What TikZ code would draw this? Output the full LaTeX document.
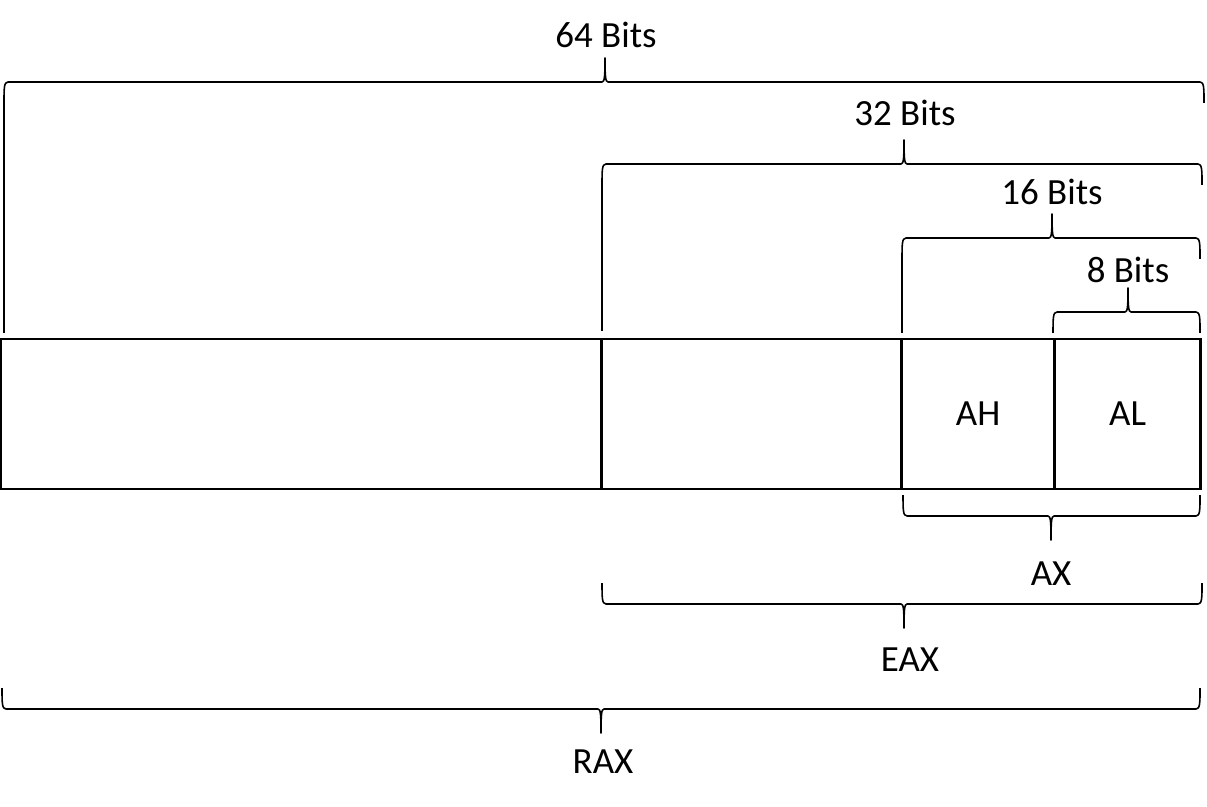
\documentclass[tikz,border=0pt]{standalone}
\usepackage{fontspec}
\setmainfont{Carlito}
\usetikzlibrary{positioning}

\tikzset{
  brace/.style={line width=0.45pt, line join=round},
  cell/.style={draw, line width=0.7pt, minimum height=1.5cm, inner sep=0pt, outer sep=0pt,
    font=\fontsize{10.5}{12}\selectfont},
  lbl/.style={font=\fontsize{10.5}{12}\selectfont, inner sep=0pt},
}

% #1 left x, #2 right x, #3 tip x, #4 y of the bar, #5 = 1 (legs down) or -1 (legs up)
\newcommand{\bitbrace}[5]{%
  \begin{scope}[shift={(0,#4)}, yscale=#5]
    \draw[brace] (#1,21) .. controls (#1,6) and (#1,0) .. ({#1+4},0)
      -- ({#3-3},0) .. controls ({#3-0.5},0) and (#3,-5) .. (#3,-24)
      .. controls (#3,-5) and ({#3+0.5},0) .. ({#3+3},0)
      -- ({#2-4},0) .. controls (#2,0) and (#2,6) .. (#2,21);
  \end{scope}}

\begin{document}
\begin{tikzpicture}[x=0.01cm, y=-0.01cm]
  \useasboundingbox (0,0) rectangle (1207,807);

  % --- register cells ---
  \node[cell, minimum width=6cm, anchor=north west] (rhi) at (1,339) {};
  \node[cell, minimum width=3cm, right=0pt of rhi] (ehi) {};
  \node[cell, minimum width=1.53cm, right=0pt of ehi] (ah) {AH};
  \node[cell, minimum width=1.46cm, right=0pt of ah] (al) {AL};

  % --- widths above ---
  \bitbrace{4}{1204}{605}{82}{1}
  \bitbrace{602}{1202}{904}{164}{1}
  \bitbrace{902}{1200}{1052}{238}{1}
  \bitbrace{1053}{1200}{1128}{312}{1}
  \draw[brace] (4,103) -- (4,333);
  \draw[brace] (602,185) -- (602,331);
  \draw[brace] (902,259) -- (902,333);

  \node[lbl] (w64) at (606,35) {64 Bits};
  \node[lbl] (w32) at (905,113) {32 Bits};
  \node[lbl] (w16) at (1052,192) {16 Bits};
  \node[lbl] (w8) at (1128,270) {8 Bits};

  % --- register names below ---
  \bitbrace{903}{1200}{1051}{516}{-1}
  \bitbrace{602}{1202}{904}{604}{-1}
  \bitbrace{2}{1200}{601}{709}{-1}

  \node[lbl] (ax) at (1051,574) {AX};
  \node[lbl] (eax) at (910,660) {EAX};
  \node[lbl] (rax) at (603,762) {RAX};
\end{tikzpicture}
\end{document}
